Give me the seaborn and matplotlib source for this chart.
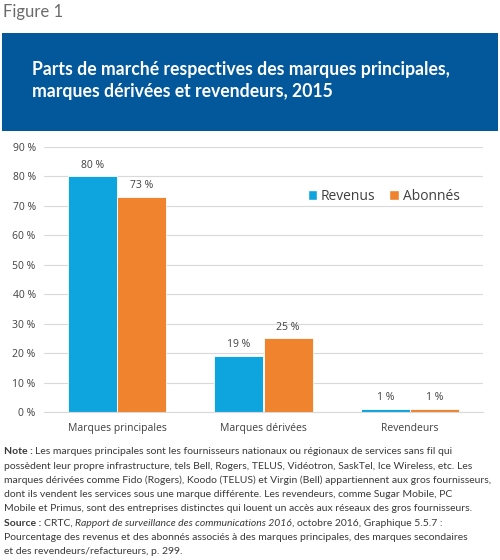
import numpy as np
import pandas as pd
import matplotlib
matplotlib.use("Agg")
import matplotlib.pyplot as plt
from matplotlib.patches import Rectangle, Patch
import seaborn as sns

# ----------------------------------------------------------------------
# Data
# ----------------------------------------------------------------------
categories = ["Marques principales", "Marques dérivées", "Revendeurs"]
series = ["Revenus", "Abonnés"]
revenus = [80, 19, 1]
abonnes = [73, 25, 1]
yticks = [0, 10, 20, 30, 40, 50, 60, 70, 80, 90]
colors = ["#0EA5DE", "#EF832E"]

df = pd.DataFrame({
    "categorie": categories * 2,
    "serie": [series[0]] * 3 + [series[1]] * 3,
    "valeur": revenus + abonnes,
})

sns.set_style("white")
plt.rcParams["font.family"] = ["Open Sans", "DejaVu Sans"]

fig = plt.figure(figsize=(5, 5.6), dpi=100)

# header
fig.text(0.006, 0.978, "Figure 1", fontsize=12, color="#6b6b6b", family="Lato",
         ha="left", va="center")
fig.patches.append(Rectangle((0.004, 0.766), 0.992, 0.175, transform=fig.transFigure,
                             facecolor="#02589B", edgecolor="none"))
fig.text(0.064, 0.875, "Parts de marché respectives des marques principales,",
         fontsize=12.7, color="white", weight="bold", family="Lato", va="center")
fig.text(0.064, 0.836, "marques dérivées et revendeurs, 2015",
         fontsize=12.7, color="white", weight="bold", family="Lato", va="center")

# chart
ax = fig.add_axes([0.088, 0.2643, 0.878, 0.4732])
sns.barplot(data=df, x="categorie", y="valeur", hue="serie", palette=colors,
            saturation=1, width=0.67, ax=ax, edgecolor="white", linewidth=0.6,
            legend=False)
ax.set_ylim(0, 90)
ax.set_xlim(-0.5, 2.5)
ax.set_yticks(yticks)
ax.set_yticklabels([f"{t} %" for t in yticks])
ax.set_xlabel("")
ax.set_ylabel("")
ax.yaxis.grid(True, color="#d9d9d9", linewidth=0.8)
ax.set_axisbelow(True)
for s in ["left", "right", "top"]:
    ax.spines[s].set_visible(False)
ax.spines["bottom"].set_color("#d9d9d9")
ax.tick_params(axis="both", length=0, colors="#404040", labelsize=7.5)
ax.tick_params(axis="x", pad=8)
ax.tick_params(axis="y", pad=6)

for cont in ax.containers:
    ax.bar_label(cont, labels=[f"{v:.0f} %" for v in cont.datavalues],
                 padding=4, fontsize=7.5, color="#404040")

handles = [Patch(facecolor=c, label=s) for c, s in zip(colors, series)]
ax.legend(handles=handles, loc="upper right", bbox_to_anchor=(0.975, 0.89), ncol=2,
          frameon=False, fontsize=10, handlelength=0.7, handleheight=0.7,
          handletextpad=0.25, columnspacing=1.0, labelcolor="#404040")

# notes
note_lines = [
    [("Note : ", "bold", "normal"), ("Les marques principales sont les fournisseurs nationaux ou régionaux de services sans fil qui", "normal", "normal")],
    [("possèdent leur propre infrastructure, tels Bell, Rogers, TELUS, Vidéotron, SaskTel, Ice Wireless, etc. Les", "normal", "normal")],
    [("marques dérivées comme Fido (Rogers), Koodo (TELUS) et Virgin (Bell) appartiennent aux gros fournisseurs,", "normal", "normal")],
    [("dont ils vendent les services sous une marque différente. Les revendeurs, comme Sugar Mobile, PC", "normal", "normal")],
    [("Mobile et Primus, sont des entreprises distinctes qui louent un accès aux réseaux des gros fournisseurs.", "normal", "normal")],
    [("Source : ", "bold", "normal"), ("CRTC, ", "normal", "normal"),
     ("Rapport de surveillance des communications 2016", "normal", "italic"),
     (", octobre 2016, Graphique 5.5.7 :", "normal", "normal")],
    [("Pourcentage des revenus et des abonnés associés à des marques principales, des marques secondaires", "normal", "normal")],
    [("et des revendeurs/refactureurs, p. 299.", "normal", "normal")],
]

fig.canvas.draw()
renderer = fig.canvas.get_renderer()
y0 = 452
for i, line in enumerate(note_lines):
    x = 4
    y = 1 - (y0 + i * 14.2) / 560
    for txt, wt, st in line:
        t = fig.text(x / 500, y, txt, fontsize=7.45, family="Lato", weight=wt,
                     style=st, color="#3a3a3a", va="center", ha="left")
        bb = t.get_window_extent(renderer=renderer)
        x += bb.width

fig.savefig("out.png", dpi=100)
